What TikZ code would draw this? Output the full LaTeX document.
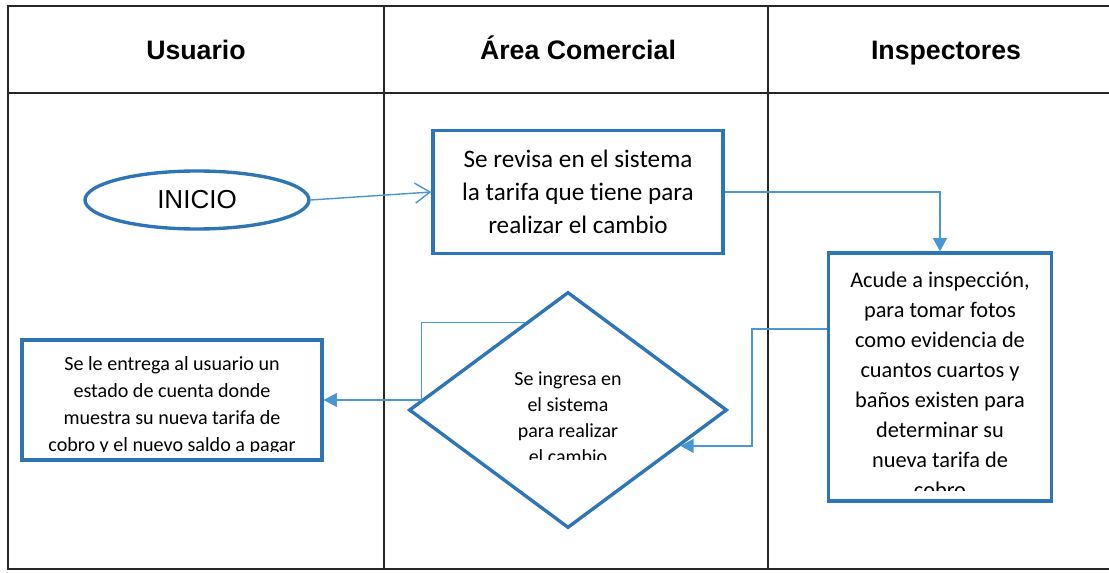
\documentclass[tikz,border=0pt]{standalone}
\usepackage{fontspec}
\setmainfont{Carlito}[Ligatures=CommonOff]
\newfontfamily\headfont{Liberation Sans}
\usepackage{xcolor,tikz}
\usetikzlibrary{calc,positioning,shapes.geometric,arrows.meta}
\tikzset{>=stealth}
\definecolor{boxblue}{RGB}{46,117,182}
\definecolor{lineblue}{RGB}{72,150,212}
\tikzset{
  lane/.style={draw=black!85, line width=1.1pt},
  lanehead/.style={anchor=base, font=\headfont\bfseries\fontsize{19}{22}\selectfont},
  stepbox/.style={draw=boxblue, line width=2.4pt, align=center, inner sep=0pt},
  flow/.style={draw=lineblue, line width=1pt, -{Triangle[length=0.33cm,width=0.35cm]}},
}

\begin{document}
\begin{tikzpicture}
\useasboundingbox (0,0) rectangle (27.725,-14.325);
\draw[lane] (27.725,-0.15) -- (0.2,-0.15) -- (0.2,-14.225) -- (27.725,-14.225);
\draw[lane] (0.2,-2.325) -- (27.725,-2.325);
\draw[lane] (9.6,-0.15) -- (9.6,-14.225);
\draw[lane] (19.2,-0.15) -- (19.2,-14.225);
\node[lanehead] (usuario) at (4.9,-1.5) {Usuario};
\node[lanehead] (comercial) at (14.45,-1.5) {Área Comercial};
\node[lanehead] (inspectores) at (23.65,-1.5) {Inspectores};

\node[ellipse, draw=boxblue, line width=2.4pt, minimum width=5.6cm, minimum height=1.45cm,
  font=\headfont\fontsize{18.5}{22}\selectfont] (inicio) at (4.925,-5.0) {INICIO};
\node[stepbox, minimum width=7.25cm, minimum height=3.075cm, font=\fontsize{17.9}{23.5}\selectfont]
  (revisa) at (14.45,-4.8) {Se revisa en el sistema\\la tarifa que tiene para\\realizar el cambio};
\node[stepbox, minimum width=5.575cm, minimum height=6.2cm] (insp) at (23.5,-9.425) {};
\node[stepbox, diamond, minimum width=7.95cm, minimum height=5.9cm] (dec) at (14.2,-10.25) {};
\node[stepbox, minimum width=7.5cm, minimum height=3.0cm] (entrega) at (4.3,-10.0) {};

\begin{scope}
\clip (insp.north west) rectangle ([yshift=0.3cm]insp.south east);
\node[align=center, font=\fontsize{15.9}{21.3}\selectfont] (insptxt) at (23.5,-9.625)
  {Acude a inspección,\\para tomar fotos\\como evidencia de\\cuantos cuartos y\\baños existen para\\determinar su\\nueva tarifa de\\cobro};
\end{scope}
\begin{scope}
\clip ([xshift=-2.5cm]dec.north) rectangle ([xshift=2.5cm]dec.center |- 0,-11.5);
\node[align=center, font=\fontsize{14.2}{18.5}\selectfont] (dectxt) at (14.2,-10.45)
  {Se ingresa en\\el sistema\\para realizar\\el cambio};
\end{scope}
\begin{scope}
\clip (entrega.north west) rectangle (entrega.east |- 0,-11.3);
\node[align=center, font=\fontsize{14.3}{19.2}\selectfont] (entregatxt) at (4.3,-10.15)
  {Se le entrega al usuario un\\estado de cuenta donde\\muestra su nueva tarifa de\\cobro y el nuevo saldo a pagar};
\end{scope}

\coordinate (dec-in) at ($(dec.east)!0.3!(dec.south)$);
\coordinate (dec-out) at ($(dec.west)!0.73!(dec.north)$);
\draw[lineblue, line width=1pt, -{Straight Barb[length=0.375cm,width=0.5cm]}] (inicio.east) -- (revisa.west);
\draw[flow] (revisa.east) -| (insp.north);
\draw[flow] ([yshift=1.2cm]insp.west) -- ++(-1.875,0) |- (dec-in);
\draw[flow] (dec-out) -- ++(-2.575,0) |- (entrega.east);
\end{tikzpicture}
\end{document}
